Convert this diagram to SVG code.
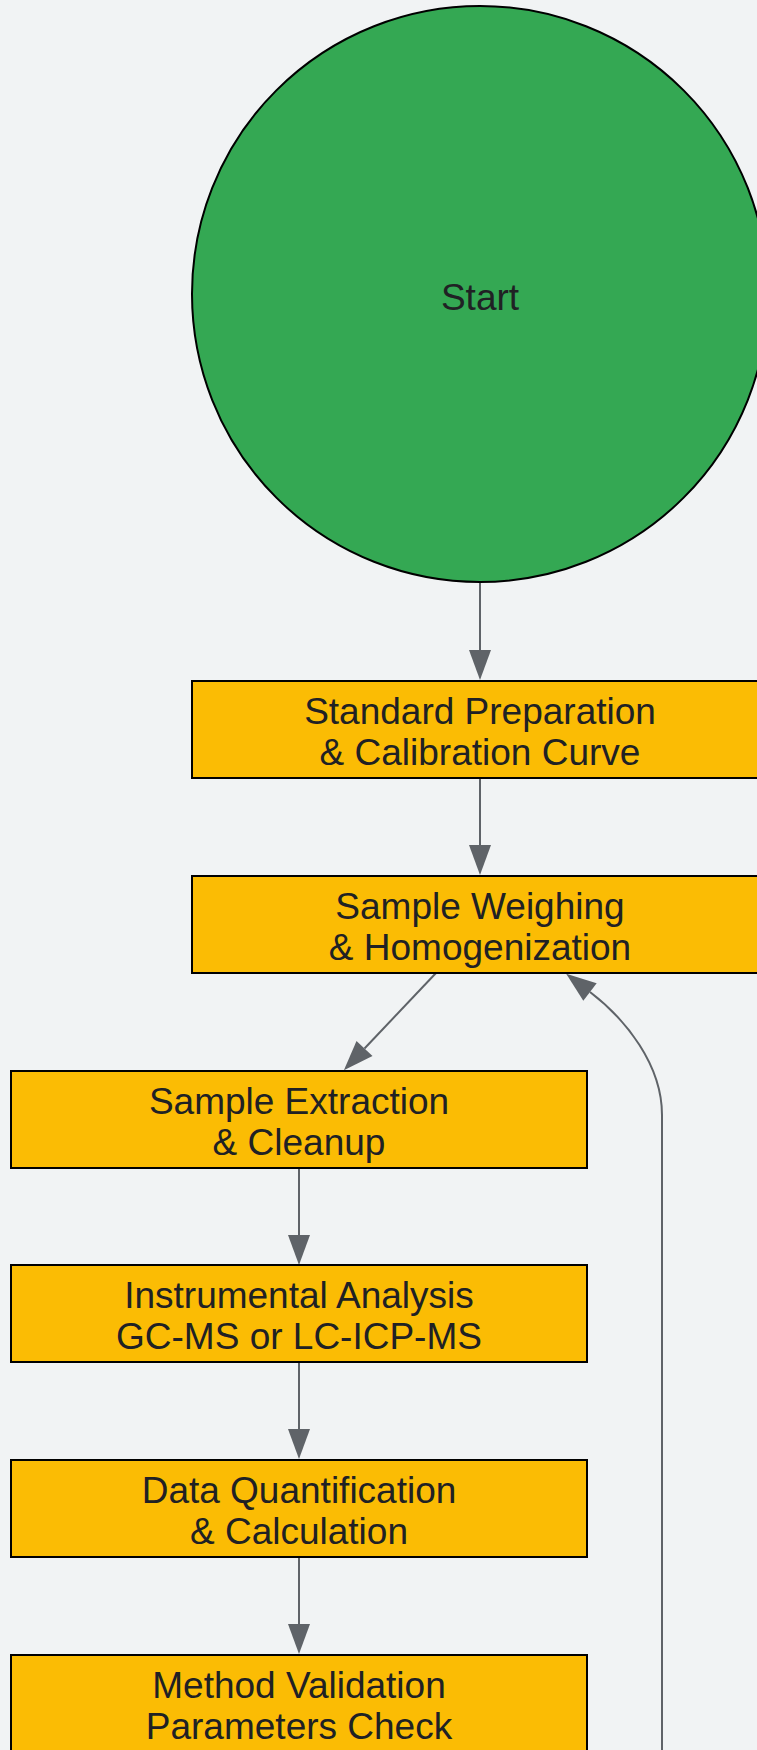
<svg xmlns="http://www.w3.org/2000/svg" width="757" height="1750" viewBox="0 0 757 1750">
<style>
.bg{fill:#f1f3f4}
.start{fill:#34a853;stroke:#000;stroke-width:2}
.box{fill:#fbbc04;stroke:#000;stroke-width:2}
.lbl{font-family:"Liberation Sans",Arial,sans-serif;font-size:37px;fill:#202124;text-anchor:middle}
.edge{fill:none;stroke:#5f6368;stroke-width:2}
</style>
<defs>
<marker id="arr" markerUnits="userSpaceOnUse" markerWidth="31" markerHeight="22" viewBox="0 0 31 22" refX="0" refY="11" orient="auto" overflow="visible">
<path d="M0,0 L30,11 L0,22 z" fill="#5f6368"/>
</marker>
</defs>
<rect class="bg" x="0" y="0" width="757" height="1750"/>
<g id="edges">
<path class="edge" d="M480 583 L480 650" marker-end="url(#arr)"/>
<path class="edge" d="M480 778 L480 845" marker-end="url(#arr)"/>
<path class="edge" d="M436 973 L364.5 1048.5" marker-end="url(#arr)"/>
<path class="edge" d="M299 1168 L299 1235" marker-end="url(#arr)"/>
<path class="edge" d="M299 1362 L299 1429" marker-end="url(#arr)"/>
<path class="edge" d="M299 1557 L299 1624" marker-end="url(#arr)"/>
<path class="edge" d="M662 1750 L662 1115 C662 1065 626 1019.5 590 992" marker-end="url(#arr)"/>
</g>
<g id="start">
<circle class="start" cx="480" cy="294" r="288"/>
<text class="lbl" x="480" y="310">Start</text>
</g>
<g id="std">
<rect class="box" x="192" y="681" width="576" height="97"/>
<text class="lbl" x="480" y="723.5">Standard Preparation</text>
<text class="lbl" x="480" y="764.5">&amp; Calibration Curve</text>
</g>
<g id="weigh">
<rect class="box" x="192" y="876" width="576" height="97"/>
<text class="lbl" x="480" y="918.5">Sample Weighing</text>
<text class="lbl" x="480" y="959.5">&amp; Homogenization</text>
</g>
<g id="extract">
<rect class="box" x="11" y="1071" width="576" height="97"/>
<text class="lbl" x="299" y="1113.5">Sample Extraction</text>
<text class="lbl" x="299" y="1154.5">&amp; Cleanup</text>
</g>
<g id="instr">
<rect class="box" x="11" y="1265" width="576" height="97"/>
<text class="lbl" x="299" y="1307.5">Instrumental Analysis</text>
<text class="lbl" x="299" y="1348.5">GC-MS or LC-ICP-MS</text>
</g>
<g id="quant">
<rect class="box" x="11" y="1460" width="576" height="97"/>
<text class="lbl" x="299" y="1502.5">Data Quantification</text>
<text class="lbl" x="299" y="1543.5">&amp; Calculation</text>
</g>
<g id="valid">
<rect class="box" x="11" y="1655" width="576" height="97"/>
<text class="lbl" x="299" y="1697.5">Method Validation</text>
<text class="lbl" x="299" y="1738.5">Parameters Check</text>
</g>
</svg>
